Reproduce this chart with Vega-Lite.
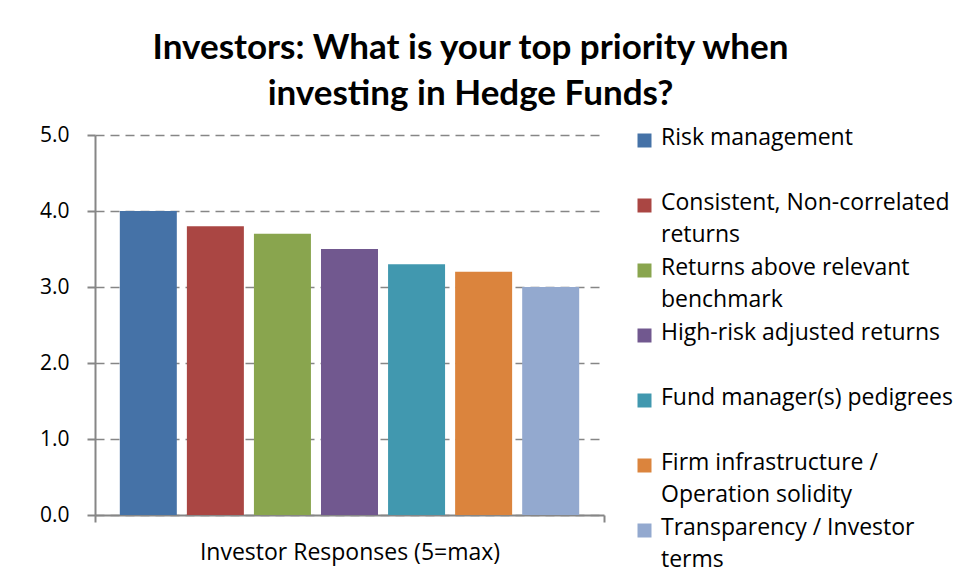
{
  "$schema": "https://vega.github.io/schema/vega-lite/v6.json",
  "autosize": {"type": "none"},
  "width": 509,
  "height": 380,
  "padding": {"left": 95, "top": 135, "right": 353, "bottom": 63},
  "background": "white",
  "title": {
    "text": ["Investors: What is your top priority when", "investing in Hedge Funds?"],
    "font": "Lato",
    "fontSize": 35,
    "fontWeight": "bold",
    "color": "black",
    "lineHeight": 46,
    "anchor": "middle",
    "frame": "group",
    "dx": 121,
    "dy": 45,
    "baseline": "bottom",
    "offset": 22
  },
  "data": {
    "values": [
      {"group": "Investor Responses (5=max)", "priority": "Risk management", "score": 4.0},
      {"group": "Investor Responses (5=max)", "priority": "Consistent, Non-correlated returns", "score": 3.8},
      {"group": "Investor Responses (5=max)", "priority": "Returns above relevant benchmark", "score": 3.7},
      {"group": "Investor Responses (5=max)", "priority": "High-risk adjusted returns", "score": 3.5},
      {"group": "Investor Responses (5=max)", "priority": "Fund manager(s) pedigrees", "score": 3.3},
      {"group": "Investor Responses (5=max)", "priority": "Firm infrastructure / Operation solidity", "score": 3.2},
      {"group": "Investor Responses (5=max)", "priority": "Transparency / Investor terms", "score": 3.0}
    ]
  },
  "mark": {"type": "bar"},
  "encoding": {
    "x": {
      "field": "group",
      "type": "nominal",
      "scale": {"paddingInner": 0, "paddingOuter": 0},
      "axis": {
        "title": null,
        "labelAngle": 0,
        "labelFont": "Open Sans",
        "labelFontSize": 23,
        "labelLimit": 500,
        "labelColor": "black",
        "labelPadding": 19,
        "tickBand": "extent",
        "tickColor": "#868686",
        "tickSize": 7,
        "tickWidth": 2,
        "domainColor": "#868686",
        "domainWidth": 2
      }
    },
    "xOffset": {
      "field": "priority",
      "type": "nominal",
      "sort": null,
      "scale": {"paddingInner": 0.15, "paddingOuter": 0.37}
    },
    "y": {
      "field": "score",
      "type": "quantitative",
      "scale": {"domain": [0, 5]},
      "axis": {
        "title": null,
        "values": [0, 1, 2, 3, 4, 5],
        "format": ".1f",
        "labelFont": "Open Sans",
        "labelFontSize": 21,
        "labelColor": "black",
        "labelPadding": 18,
        "tickColor": "#868686",
        "tickSize": 8,
        "tickWidth": 2,
        "domainColor": "#868686",
        "domainWidth": 2,
        "grid": true,
        "gridColor": "#868686",
        "gridWidth": 1.5,
        "gridDash": [9, 6]
      }
    },
    "color": {
      "field": "priority",
      "type": "nominal",
      "sort": null,
      "scale": {
        "domain": ["Risk management", "Consistent, Non-correlated returns", "Returns above relevant benchmark", "High-risk adjusted returns", "Fund manager(s) pedigrees", "Firm infrastructure / Operation solidity", "Transparency / Investor terms"],
        "range": ["#4572A7", "#AA4643", "#89A54E", "#71588F", "#4198AF", "#DB843D", "#93A9CF"]
      },
      "legend": {
        "title": null,
        "orient": "none",
        "legendX": 538,
        "legendY": -6,
        "direction": "vertical",
        "symbolType": "square",
        "symbolSize": 196,
        "symbolStrokeWidth": 0,
        "labelFont": "Open Sans",
        "labelFontSize": 23,
        "labelColor": "black",
        "labelLimit": 500,
        "labelOffset": 5,
        "labelBaseline": "top",
        "rowPadding": 9,
        "encode": {
          "labels": {
            "update": {
              "lineHeight": {"value": 32},
              "dy": {"value": -14}
            }
          }
        },
        "labelExpr": "datum.label == 'Consistent, Non-correlated returns' ? ['Consistent, Non-correlated', 'returns'] : datum.label == 'Returns above relevant benchmark' ? ['Returns above relevant', 'benchmark'] : datum.label == 'Firm infrastructure / Operation solidity' ? ['Firm infrastructure /', 'Operation solidity'] : datum.label == 'Transparency / Investor terms' ? ['Transparency / Investor', 'terms'] : [datum.label, ' ']"
      }
    }
  },
  "config": {
    "view": {"stroke": null}
  }
}
